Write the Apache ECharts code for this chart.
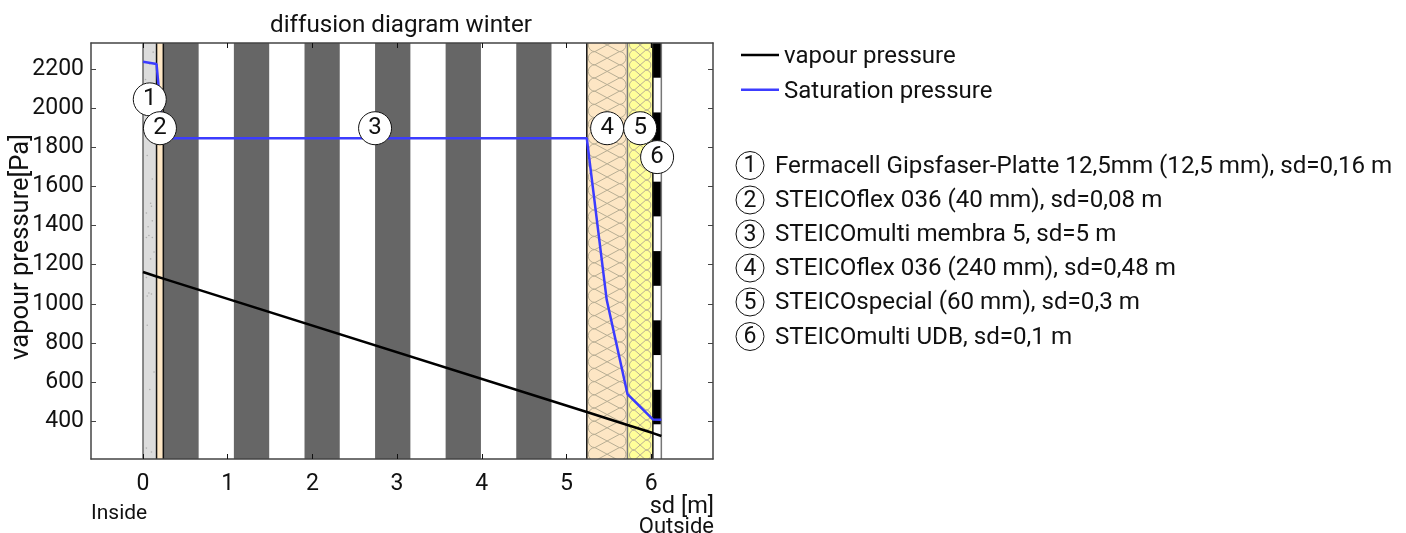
<!DOCTYPE html>
<html><head><meta charset="utf-8">
<style>html,body{margin:0;padding:0;background:#fff}#c{width:1406px;height:533px}</style>
<script src="https://cdn.jsdelivr.net/npm/echarts@6/dist/echarts.min.js"></script>
</head><body><div id="c"></div>
<script>
const xTicks=[0,1,2,3,4,5,6];
const yTicks=[400,600,800,1000,1200,1400,1600,1800,2000,2200];
const xMin=-0.614,xMax=6.73,yMin=204,yMax=2337;
const vapourSd=[0,0.16,0.24,5.24,5.72,6.02,6.12];
const vapourPa=[1163,1140,1129,445,378,337,322];
const saturationSd=[0,0.16,0.24,5.24,5.475,5.72,6.02,6.12];
const saturationPa=[2241,2229,1848,1848,1020,537,407,405];
const layerStart=[0,0.16,5.24,5.72];
const layerEnd=[0.16,0.24,5.72,6.02];
const layerFill=['#dcdcdc','#fde6c4','#fde6c4','#ffff99'];
const membraneStart=[0.24,1.073,1.907,2.74,3.573,4.407];
const membraneEnd=[0.657,1.49,2.323,3.157,3.99,4.823];
const udbBottom=[382,737,1092,1448,1803,2159];
const udbTop=[559,915,1270,1626,1981,2337];
const boundaries=[0,0.16,0.24,5.24,5.72,6.02,6.12];
const boundaryColor=['#666','#111','#111','#111','#777','#111','#777'];
const grainSd=[0.10,0.05,0.11,0.04,0.09,0.11,0.06,0.04,0.07,0.11,0.13,0.04,0.07,0.05,0.10,0.12,0.08,0.03,0.06,0.12,0.09,0.05,0.13,0.08,0.04,0.1];
const grainPa=[1500,1760,1640,1465,1515,1425,1395,1340,1350,1340,1265,1135,1055,1040,1050,2290,2230,2150,2080,1950,1230,890,650,560,260,240];
const markerSd=[0.08,0.2,2.74,5.48,5.87,6.07];
const markerPa=[2048,1900,1900,1900,1900,1752];
const markerNo=['1','2','3','4','5','6'];
const layerNames=['Fermacell Gipsfaser-Platte 12,5mm (12,5 mm), sd=0,16 m','STEICOflex 036 (40 mm), sd=0,08 m','STEICOmulti membra 5, sd=5 m','STEICOflex 036 (240 mm), sd=0,48 m','STEICOspecial (60 mm), sd=0,3 m','STEICOmulti UDB, sd=0,1 m'];

const F='Roboto';
const zip=(a,b)=>a.map((v,i)=>[v,b[i]]);
function rectSeries(data,fill,z){
  return {type:'custom',silent:true,z,clip:true,data,encode:{x:[0,1],y:[2,3]},
    renderItem(p,api){
      const a=api.coord([api.value(0),api.value(3)]),b=api.coord([api.value(1),api.value(2)]);
      return {type:'rect',shape:{x:a[0],y:a[1],width:b[0]-a[0],height:b[1]-a[1]},
        style:{fill:fill[p.dataIndex]||fill[0]}};
    }};
}
function battSeries(start,end,period,inset,z){
  return {type:'custom',silent:true,z,clip:true,data:[[start,end,yMin,yMax]],encode:{x:[0,1],y:[2,3]},
    renderItem(p,api){
      const a=api.coord([api.value(0),api.value(3)]),b=api.coord([api.value(1),api.value(2)]);
      const ch=[],r=period/2,L=a[0]+inset+r,R=b[0]-inset-r;
      const st={fill:null,stroke:'#b8ae94',lineWidth:1};
      for(let y=a[1]-period/2+2;y<b[1];y+=period){
        ch.push({type:'arc',shape:{cx:L,cy:y+r,r,startAngle:Math.PI/2,endAngle:Math.PI*1.5},style:st});
        ch.push({type:'arc',shape:{cx:R,cy:y+r,r,startAngle:-Math.PI/2,endAngle:Math.PI/2},style:st});
        ch.push({type:'line',shape:{x1:L,y1:y,x2:R,y2:y+period},style:st});
        ch.push({type:'line',shape:{x1:L,y1:y+period,x2:R,y2:y},style:st});
      }
      return {type:'group',children:ch};
    }};
}
const listY=[165.5,200,234,268,302,336.5];
const graphics=[];
layerNames.forEach((t,i)=>{
  graphics.push({type:'circle',shape:{cx:750,cy:listY[i],r:14},style:{fill:'#fff',stroke:'#111',lineWidth:1}});
  graphics.push({type:'text',x:750,y:listY[i]+1,style:{text:markerNo[i],font:'23px '+F,fill:'#111',align:'center',verticalAlign:'middle'}});
  graphics.push({type:'text',x:775,y:listY[i]+1,style:{text:t,font:'24.15px '+F,fill:'#111',align:'left',verticalAlign:'middle'}});
});
graphics.push({type:'text',x:91,y:514,style:{text:'Inside',font:'21px '+F,fill:'#111',align:'left',verticalAlign:'middle'}});
graphics.push({type:'text',x:714,y:527.5,style:{text:'Outside',font:'22px '+F,fill:'#111',align:'right',verticalAlign:'middle'}});

const axLine={show:true,onZero:false,lineStyle:{color:'#444',width:1.5}};
const chart=echarts.init(document.getElementById('c'),null,{renderer:'canvas'});
chart.setOption({
  animation:false,backgroundColor:'#fff',
  textStyle:{fontFamily:F},
  title:{text:'diffusion diagram winter',left:396,top:9,textAlign:'center',
    textStyle:{fontFamily:F,fontSize:24.2,fontWeight:'normal',color:'#111'}},
  legend:{orient:'vertical',left:741,top:45,padding:0,itemWidth:38,itemHeight:6.5,itemGap:10.7,
    icon:'path://M0 0H100V25H0Z M0 65H0.1V65Z',symbolKeepAspect:false,itemStyle:{},
    data:['vapour pressure','Saturation pressure'],
    textStyle:{fontFamily:F,fontSize:24,color:'#111'}},
  grid:{left:91,top:43,width:622,height:416,containLabel:false},
  xAxis:[
    {type:'value',min:xMin,max:xMax,position:'bottom',z:10,axisLine:axLine,splitLine:{show:false},
     axisTick:{inside:true,length:5,customValues:xTicks,lineStyle:{color:'#111'}},
     axisLabel:{customValues:xTicks,fontFamily:F,fontSize:23,color:'#111',margin:14,formatter:v=>String(v)},
     name:'sd [m]',nameLocation:'end',nameGap:0,nameMoveOverlap:false,
     nameTextStyle:{fontFamily:F,fontSize:23.5,color:'#111',align:'right',verticalAlign:'top',padding:[36,-1,0,0]}},
    {type:'value',min:xMin,max:xMax,position:'top',z:10,axisLine:axLine,splitLine:{show:false},
     axisTick:{inside:true,length:5,customValues:xTicks,lineStyle:{color:'#111'}},axisLabel:{show:false}}
  ],
  yAxis:[
    {type:'value',min:yMin,max:yMax,position:'left',z:10,axisLine:axLine,splitLine:{show:false},
     axisTick:{inside:true,length:5,customValues:yTicks,lineStyle:{color:'#444'}},
     axisLabel:{customValues:yTicks,fontFamily:F,fontSize:23,color:'#111',margin:7,formatter:v=>String(v)},
     name:'vapour pressure[Pa]',nameLocation:'middle',nameGap:56,nameRotate:90,nameMoveOverlap:false,
     nameTextStyle:{fontFamily:F,fontSize:25.5,color:'#111',padding:[0,0,0,8]}},
    {type:'value',min:yMin,max:yMax,position:'right',z:10,axisLine:axLine,splitLine:{show:false},
     axisTick:{inside:true,length:5,customValues:yTicks,lineStyle:{color:'#444'}},axisLabel:{show:false}}
  ],
  series:[
    rectSeries(layerStart.map((s,i)=>[s,layerEnd[i],yMin,yMax]),layerFill,1),
    rectSeries(membraneStart.map((s,i)=>[s,membraneEnd[i],yMin,yMax]),['#666666'],1),
    rectSeries(udbBottom.map((b,i)=>[6.02,6.12,b,udbTop[i]]),['#000000'],1),
    battSeries(5.24,5.72,13.2,1.5,2),
    battSeries(5.72,6.02,10,2,2),
    {type:'scatter',silent:true,z:3,symbolSize:1.6,data:zip(grainSd,grainPa),itemStyle:{color:'#a4a4a4'}},
    {type:'custom',silent:true,z:4,clip:true,data:boundaries.map(b=>[b,yMin,yMax]),encode:{x:0,y:[1,2]},
     renderItem(p,api){
       const a=api.coord([api.value(0),api.value(2)]),b=api.coord([api.value(0),api.value(1)]);
       return {type:'line',shape:{x1:a[0],y1:a[1],x2:b[0],y2:b[1]},style:{stroke:boundaryColor[p.dataIndex],lineWidth:1.5}};
     }},
    {name:'vapour pressure',type:'line',z:11,symbol:'none',clip:true,data:zip(vapourSd,vapourPa),lineStyle:{color:'#000',width:2.5},itemStyle:{color:'#000'}},
    {name:'Saturation pressure',type:'line',z:11,symbol:'none',clip:true,data:zip(saturationSd,saturationPa),lineStyle:{color:'#3c3cff',width:2.5},itemStyle:{color:'#3c3cff'}},
    {type:'scatter',silent:true,z:12,clip:false,symbol:'circle',symbolSize:33,data:markerSd.map((s,i)=>[s,markerPa[i],markerNo[i]]),
     itemStyle:{color:'#fff',borderColor:'#111',borderWidth:1,opacity:1},
     label:{show:true,position:'inside',formatter:p=>p.value[2],fontFamily:F,fontSize:24,color:'#111'}}
  ],
  graphic:{elements:graphics}
});
</script></body></html>
